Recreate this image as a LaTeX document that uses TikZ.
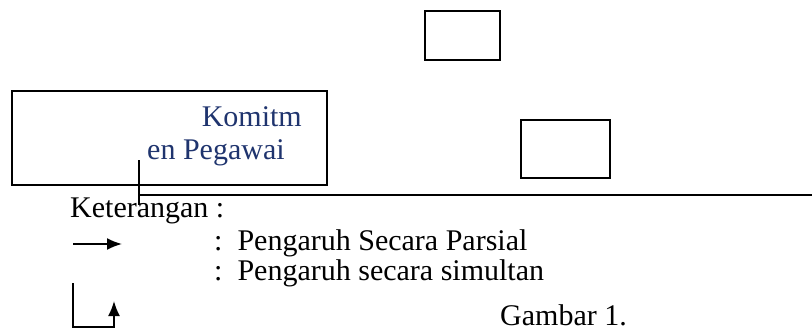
\documentclass[tikz,border=0pt]{standalone}
\usepackage{fontspec}
\setmainfont{Liberation Serif}
\usetikzlibrary{arrows.meta}
\definecolor{navy}{RGB}{31,52,110}
\tikzset{box/.style={draw,line width=1.6pt,minimum width=#1},
  txt/.style={inner sep=0pt,font=\fontsize{30}{34}\selectfont}}
\begin{document}
\begin{tikzpicture}[x=1pt,y=-1pt,>={Latex[length=15pt,width=12pt]}]
\useasboundingbox (0,0) rectangle (812,332);
\node[box=315pt,minimum height=94pt,anchor=north west] (K) at(11,90) {};
\node[txt,text=navy,anchor=east] (k1) at(302,117) {Komitm};
\node[txt,text=navy,anchor=west] (k2) at(147,153) {en Pegawai};
\node[box=75pt,minimum height=49pt,anchor=north west] (b1) at(424,10) {};
\node[box=89pt,minimum height=58pt,anchor=north west] (b2) at(520,119) {};
\coordinate (v1) at(139,160);
\coordinate (v2) at(139,205);
\coordinate (h1) at(139,195);
\coordinate (h2) at(812,195);
\draw[line width=1.6pt](v1)--(v2);
\draw[line width=1.6pt](h1)--(h2);
\node[txt,anchor=west] (ket) at(70,211) {Keterangan :};
\coordinate (a1) at(73,244);
\coordinate (a2) at(122,244);
\draw[->,line width=1.8pt](a1)--(a2);
\node[txt,anchor=west] (p1) at(214,243) {:~~Pengaruh Secara Parsial};
\node[txt,anchor=west] (p2) at(214,273) {:~~Pengaruh secara simultan};
\coordinate (e1) at(73,283);
\coordinate (e2) at(114,301);
\draw[->,line width=1.8pt](e1)|-(114,327)--(e2);
\node[txt,anchor=west] (g) at(500,315) {Gambar 1.};
\end{tikzpicture}
\end{document}
